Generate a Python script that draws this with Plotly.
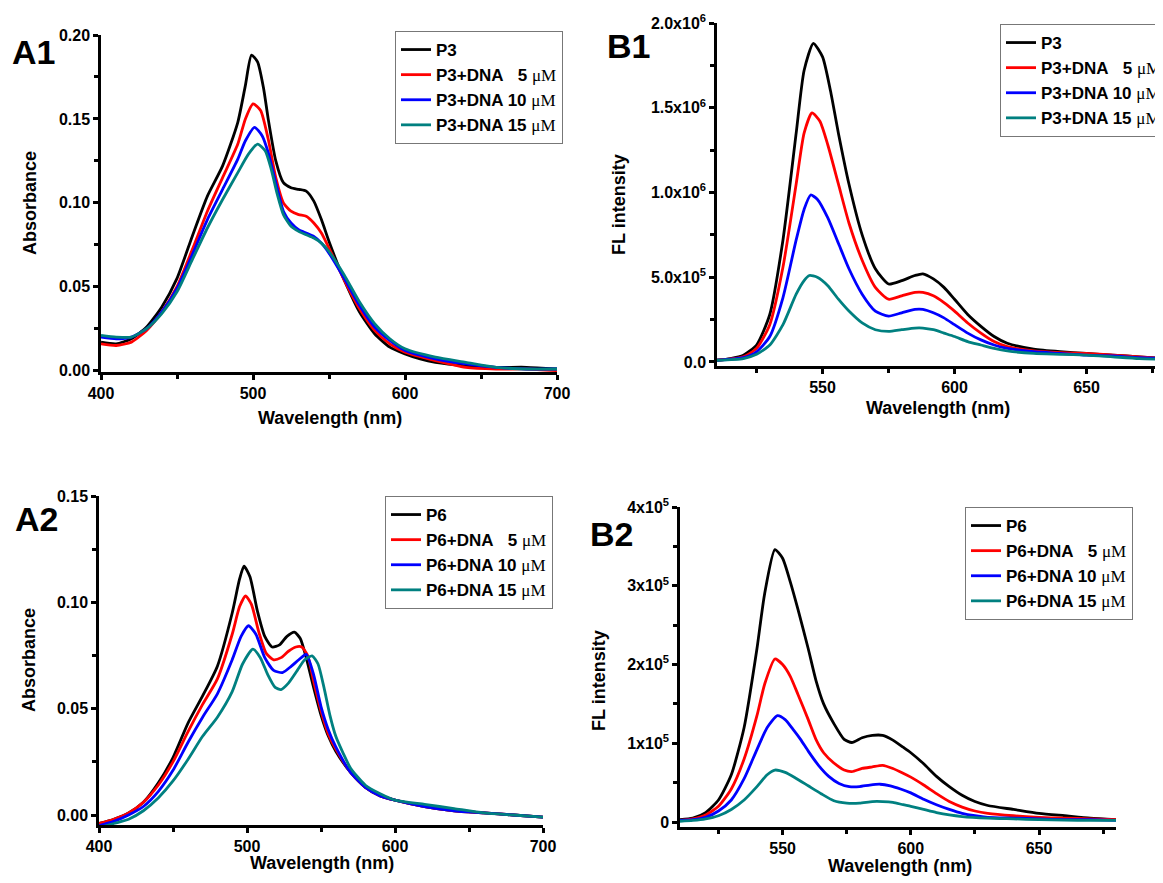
import plotly.graph_objects as go

# page body has an 8px margin: the figure is sized and positioned to compensate
OFF = 8
W, H = 1163 - OFF, 883 - OFF
COLORS = ["#000000", "#FF0000", "#0000FF", "#008080"]
MU = "<span style=\"font-family:'Liberation Serif',serif;font-weight:normal\">μM</span>"
NB = "\u00a0"
names_p3 = ["P3", f"P3+DNA{NB*3}5 {MU}", f"P3+DNA 10 {MU}", f"P3+DNA 15 {MU}"]
names_p6 = ["P6", f"P6+DNA{NB*3}5 {MU}", f"P6+DNA 10 {MU}", f"P6+DNA 15 {MU}"]

# ---------------- A1 : absorbance P3 ----------------
a1_x_p3 = [400, 410, 420, 430, 440, 450, 460, 470, 480, 490, 495, 499, 503, 507, 510, 515, 520, 525, 530, 535, 540, 545, 550, 555, 560, 570, 580, 590, 600, 610, 620, 640, 660, 680, 700]
a1_y_p3 = [0.017, 0.016, 0.019, 0.026, 0.038, 0.055, 0.080, 0.104, 0.122, 0.148, 0.170, 0.188, 0.184, 0.168, 0.150, 0.125, 0.112, 0.109, 0.108, 0.107, 0.101, 0.090, 0.077, 0.065, 0.054, 0.035, 0.022, 0.014, 0.010, 0.007, 0.005, 0.003, 0.002, 0.002, 0.001]
a1_x_5 = [400, 410, 420, 430, 440, 450, 460, 470, 480, 490, 495, 500, 505, 510, 515, 520, 525, 530, 535, 540, 545, 550, 560, 570, 580, 590, 600, 620, 640, 660, 680, 700]
a1_y_5 = [0.016, 0.015, 0.017, 0.024, 0.035, 0.050, 0.072, 0.095, 0.115, 0.135, 0.150, 0.159, 0.155, 0.138, 0.115, 0.100, 0.095, 0.093, 0.092, 0.088, 0.082, 0.073, 0.054, 0.037, 0.024, 0.016, 0.011, 0.006, 0.002, 0.001, 0.001, 0.000]
a1_x_10 = [400, 410, 420, 430, 440, 450, 460, 470, 480, 490, 495, 501, 506, 510, 515, 520, 525, 530, 535, 540, 545, 550, 560, 570, 580, 590, 600, 620, 640, 660, 680, 700]
a1_y_10 = [0.020, 0.019, 0.020, 0.025, 0.035, 0.049, 0.069, 0.090, 0.108, 0.126, 0.137, 0.145, 0.140, 0.130, 0.112, 0.095, 0.088, 0.084, 0.082, 0.080, 0.076, 0.070, 0.055, 0.039, 0.026, 0.018, 0.012, 0.007, 0.004, 0.002, 0.001, 0.001]
a1_x_15 = [400, 410, 420, 430, 440, 450, 460, 470, 480, 490, 497, 503, 508, 512, 516, 520, 525, 530, 535, 540, 545, 550, 560, 570, 580, 590, 600, 620, 640, 660, 680, 700]
a1_y_15 = [0.021, 0.020, 0.020, 0.025, 0.034, 0.047, 0.066, 0.085, 0.102, 0.118, 0.129, 0.135, 0.131, 0.120, 0.105, 0.093, 0.086, 0.083, 0.081, 0.079, 0.076, 0.071, 0.057, 0.041, 0.028, 0.019, 0.013, 0.008, 0.005, 0.002, 0.001, 0.001]

# ---------------- B1 : fluorescence P3 ----------------
b1_x_p3 = [510, 515, 520, 525, 530, 535, 540, 543, 546.5, 550, 553, 556, 560, 565, 570, 575, 580, 585, 588, 592, 596, 600, 605, 610, 615, 620, 630, 640, 650, 660, 670, 680]
b1_y_p3 = [0.01e6, 0.02e6, 0.04e6, 0.10e6, 0.28e6, 0.72e6, 1.35e6, 1.72e6, 1.88e6, 1.80e6, 1.60e6, 1.35e6, 1.05e6, 0.75e6, 0.55e6, 0.46e6, 0.48e6, 0.51e6, 0.52e6, 0.49e6, 0.44e6, 0.37e6, 0.28e6, 0.21e6, 0.15e6, 0.11e6, 0.075e6, 0.06e6, 0.05e6, 0.04e6, 0.03e6, 0.02e6]
b1_x_5 = [510, 520, 525, 530, 535, 540, 543, 546, 549, 552, 556, 560, 565, 570, 575, 580, 585, 588, 592, 596, 600, 605, 610, 615, 620, 630, 640, 650, 660, 670, 680]
b1_y_5 = [0.01e6, 0.03e6, 0.08e6, 0.22e6, 0.56e6, 1.05e6, 1.35e6, 1.47e6, 1.42e6, 1.28e6, 1.05e6, 0.82e6, 0.60e6, 0.44e6, 0.37e6, 0.39e6, 0.41e6, 0.41e6, 0.39e6, 0.35e6, 0.30e6, 0.23e6, 0.17e6, 0.12e6, 0.09e6, 0.065e6, 0.055e6, 0.05e6, 0.04e6, 0.03e6, 0.02e6]
b1_x_10 = [510, 520, 525, 530, 535, 540, 543, 545.5, 548, 552, 556, 560, 565, 570, 575, 580, 585, 588, 592, 596, 600, 605, 610, 615, 620, 630, 640, 650, 660, 670, 680]
b1_y_10 = [0.01e6, 0.025e6, 0.06e6, 0.15e6, 0.38e6, 0.72e6, 0.90e6, 0.985e6, 0.96e6, 0.85e6, 0.70e6, 0.55e6, 0.40e6, 0.30e6, 0.27e6, 0.29e6, 0.31e6, 0.31e6, 0.29e6, 0.26e6, 0.22e6, 0.17e6, 0.13e6, 0.10e6, 0.08e6, 0.06e6, 0.05e6, 0.04e6, 0.035e6, 0.025e6, 0.02e6]
b1_x_15 = [510, 520, 525, 530, 535, 540, 543, 545, 548, 552, 556, 560, 565, 570, 575, 580, 585, 588, 592, 596, 600, 605, 610, 615, 620, 630, 640, 650, 660, 670, 680]
b1_y_15 = [0.01e6, 0.02e6, 0.045e6, 0.10e6, 0.22e6, 0.40e6, 0.48e6, 0.51e6, 0.50e6, 0.45e6, 0.37e6, 0.30e6, 0.23e6, 0.19e6, 0.18e6, 0.19e6, 0.20e6, 0.20e6, 0.19e6, 0.17e6, 0.15e6, 0.12e6, 0.10e6, 0.08e6, 0.065e6, 0.05e6, 0.045e6, 0.04e6, 0.03e6, 0.02e6, 0.015e6]

# ---------------- A2 : absorbance P6 ----------------
a2_x_p6 = [400, 410, 420, 430, 440, 450, 460, 470, 480, 490, 495, 498, 502, 507, 512, 517, 522, 527, 532, 536, 540, 545, 550, 555, 560, 570, 580, 590, 600, 620, 640, 660, 680, 700]
a2_y_p6 = [-0.004, -0.002, 0.001, 0.006, 0.015, 0.027, 0.043, 0.056, 0.070, 0.095, 0.111, 0.117, 0.112, 0.096, 0.084, 0.079, 0.080, 0.084, 0.086, 0.083, 0.074, 0.060, 0.047, 0.037, 0.030, 0.020, 0.013, 0.009, 0.007, 0.004, 0.002, 0.001, 0.000, -0.001]
a2_x_5 = [400, 410, 420, 430, 440, 450, 460, 470, 480, 490, 495, 499, 503, 508, 513, 518, 523, 528, 533, 537, 541, 545, 550, 555, 560, 570, 580, 590, 600, 620, 640, 660, 680, 700]
a2_y_5 = [-0.004, -0.002, 0.001, 0.006, 0.014, 0.025, 0.039, 0.052, 0.064, 0.085, 0.098, 0.103, 0.099, 0.086, 0.076, 0.073, 0.074, 0.077, 0.079, 0.079, 0.075, 0.063, 0.049, 0.038, 0.031, 0.020, 0.013, 0.009, 0.007, 0.004, 0.002, 0.001, 0.000, -0.001]
a2_x_10 = [400, 410, 420, 430, 440, 450, 460, 470, 480, 490, 496, 501, 506, 512, 518, 524, 530, 535, 540, 545, 550, 555, 560, 570, 580, 590, 600, 620, 640, 660, 680, 700]
a2_y_10 = [-0.005, -0.003, 0.000, 0.004, 0.011, 0.021, 0.034, 0.046, 0.057, 0.073, 0.084, 0.089, 0.085, 0.074, 0.068, 0.067, 0.070, 0.073, 0.0755, 0.066, 0.051, 0.040, 0.032, 0.020, 0.013, 0.009, 0.007, 0.004, 0.002, 0.001, 0.000, -0.001]
a2_x_15 = [400, 410, 420, 430, 440, 450, 460, 470, 480, 490, 497, 504, 509, 514, 519, 523, 528, 534, 539, 544, 548, 552, 556, 560, 565, 570, 580, 590, 600, 620, 640, 660, 680, 700]
a2_y_15 = [-0.006, -0.004, -0.002, 0.002, 0.008, 0.016, 0.026, 0.037, 0.046, 0.058, 0.071, 0.078, 0.074, 0.066, 0.060, 0.059, 0.062, 0.068, 0.073, 0.0748, 0.071, 0.060, 0.047, 0.037, 0.029, 0.022, 0.014, 0.010, 0.007, 0.005, 0.003, 0.001, 0.000, -0.001]

# ---------------- B2 : fluorescence P6 ----------------
b2_x_p6 = [510, 515, 520, 525, 530, 535, 540, 543, 547, 550, 553, 556, 560, 563, 566, 570, 574, 577, 581, 585, 589, 593, 597, 600, 605, 610, 615, 620, 625, 630, 640, 650, 660, 670, 680]
b2_y_p6 = [0.03e5, 0.05e5, 0.12e5, 0.28e5, 0.60e5, 1.20e5, 2.20e5, 2.90e5, 3.46e5, 3.35e5, 3.05e5, 2.70e5, 2.20e5, 1.80e5, 1.50e5, 1.25e5, 1.05e5, 1.01e5, 1.07e5, 1.10e5, 1.10e5, 1.04e5, 0.95e5, 0.88e5, 0.74e5, 0.58e5, 0.45e5, 0.34e5, 0.26e5, 0.21e5, 0.16e5, 0.11e5, 0.08e5, 0.05e5, 0.03e5]
b2_x_5 = [510, 515, 520, 525, 530, 535, 540, 543, 547, 550, 553, 556, 560, 563, 566, 570, 574, 577, 581, 585, 589, 593, 597, 600, 605, 610, 615, 620, 625, 630, 640, 650, 660, 670, 680]
b2_y_5 = [0.02e5, 0.04e5, 0.09e5, 0.20e5, 0.42e5, 0.80e5, 1.35e5, 1.75e5, 2.07e5, 2.00e5, 1.85e5, 1.62e5, 1.30e5, 1.05e5, 0.88e5, 0.75e5, 0.66e5, 0.64e5, 0.68e5, 0.70e5, 0.72e5, 0.68e5, 0.62e5, 0.57e5, 0.47e5, 0.36e5, 0.26e5, 0.19e5, 0.14e5, 0.11e5, 0.08e5, 0.06e5, 0.05e5, 0.04e5, 0.03e5]
b2_x_10 = [510, 515, 520, 525, 530, 535, 540, 544, 548, 551, 554, 557, 560, 564, 568, 572, 576, 580, 584, 588, 592, 596, 600, 605, 610, 615, 620, 625, 630, 640, 650, 660, 670, 680]
b2_y_10 = [0.02e5, 0.03e5, 0.06e5, 0.14e5, 0.28e5, 0.55e5, 0.92e5, 1.20e5, 1.35e5, 1.30e5, 1.18e5, 1.05e5, 0.90e5, 0.72e5, 0.58e5, 0.49e5, 0.45e5, 0.45e5, 0.47e5, 0.48e5, 0.46e5, 0.42e5, 0.37e5, 0.29e5, 0.22e5, 0.16e5, 0.11e5, 0.08e5, 0.06e5, 0.05e5, 0.04e5, 0.03e5, 0.03e5, 0.02e5]
b2_x_15 = [510, 515, 520, 525, 530, 535, 540, 544, 547, 551, 555, 560, 565, 570, 575, 580, 585, 589, 593, 597, 600, 605, 610, 615, 620, 630, 640, 650, 660, 670, 680]
b2_y_15 = [0.01e5, 0.02e5, 0.04e5, 0.08e5, 0.16e5, 0.28e5, 0.45e5, 0.60e5, 0.66e5, 0.63e5, 0.56e5, 0.46e5, 0.36e5, 0.27e5, 0.24e5, 0.24e5, 0.26e5, 0.26e5, 0.25e5, 0.22e5, 0.20e5, 0.16e5, 0.12e5, 0.09e5, 0.07e5, 0.05e5, 0.04e5, 0.03e5, 0.025e5, 0.02e5, 0.02e5]

# tick labels
b1_tickvals = [0, 0.5e6, 1.0e6, 1.5e6, 2.0e6]
b1_ticktext = ["0.0", "5.0x10<sup>5</sup>", "1.0x10<sup>6</sup>", "1.5x10<sup>6</sup>", "2.0x10<sup>6</sup>"]
b2_tickvals = [0, 1e5, 2e5, 3e5, 4e5]
b2_ticktext = ["0", "1x10<sup>5</sup>", "2x10<sup>5</sup>", "3x10<sup>5</sup>", "4x10<sup>5</sup>"]

FONT = "Liberation Sans, Arial, sans-serif"

fig = go.Figure()

panels = [
    ("x", "y", "legend", names_p3, [(a1_x_p3, a1_y_p3), (a1_x_5, a1_y_5), (a1_x_10, a1_y_10), (a1_x_15, a1_y_15)]),
    ("x2", "y2", "legend2", names_p3, [(b1_x_p3, b1_y_p3), (b1_x_5, b1_y_5), (b1_x_10, b1_y_10), (b1_x_15, b1_y_15)]),
    ("x3", "y3", "legend3", names_p6, [(a2_x_p6, a2_y_p6), (a2_x_5, a2_y_5), (a2_x_10, a2_y_10), (a2_x_15, a2_y_15)]),
    ("x4", "y4", "legend4", names_p6, [(b2_x_p6, b2_y_p6), (b2_x_5, b2_y_5), (b2_x_10, b2_y_10), (b2_x_15, b2_y_15)]),
]
for xa, ya, lg, names, series in panels:
    for (xs, ys), name, col in zip(series, names, COLORS):
        fig.add_trace(go.Scatter(x=xs, y=ys, mode="lines", name=name, xaxis=xa, yaxis=ya,
                                 legend=lg, line=dict(color=col, width=2.8, shape="spline", smoothing=0.6)))

def px(v):
    return min(1.0, (v - OFF) / W)

def py(v):
    return 1 - (v - OFF) / H

def axis_common():
    return dict(showline=True, linewidth=2.5, linecolor="black", ticks="outside", ticklen=5,
                tickwidth=2.5, tickcolor="black", showgrid=False, zeroline=False, mirror=False,
                automargin=False,
                tickfont=dict(family=FONT, size=16, color="black", weight="bold"))

def minor(vals):
    return dict(tickvals=vals, ticklen=4, tickwidth=2.5, tickcolor="black", ticks="outside")

fig.update_layout(
    xaxis=dict(domain=[px(101), px(557)], range=[400, 700], anchor="y", tickvals=[400, 500, 600, 700],
               minor=minor([450, 550, 650]), **axis_common()),
    yaxis=dict(domain=[py(372), py(35)], range=[-0.0008, 0.2], anchor="x", tickvals=[0, 0.05, 0.10, 0.15, 0.20],
               ticktext=["0.00", "0.05", "0.10", "0.15", "0.20"],
               minor=minor([0.025, 0.075, 0.125, 0.175]), **axis_common()),
    xaxis2=dict(domain=[px(717), 1.0], range=[510, 679], anchor="y2", tickvals=[550, 600, 650],
                minor=minor([525, 575, 625, 675]), **axis_common()),
    yaxis2=dict(domain=[py(366), py(23)], range=[-0.024e6, 2.0e6], anchor="x2", tickvals=b1_tickvals, ticktext=b1_ticktext,
                minor=minor([0.25e6, 0.75e6, 1.25e6, 1.75e6]), **axis_common()),
    xaxis3=dict(domain=[px(99), px(543)], range=[400, 700], anchor="y3", tickvals=[400, 500, 600, 700],
                minor=minor([450, 550, 650]), **axis_common()),
    yaxis3=dict(domain=[py(825), py(496)], range=[-0.0047, 0.15], anchor="x3", tickvals=[0, 0.05, 0.10, 0.15],
                ticktext=["0.00", "0.05", "0.10", "0.15"],
                minor=minor([0.025, 0.075, 0.125]), **axis_common()),
    xaxis4=dict(domain=[px(680), px(1116)], range=[510, 680], anchor="y4", tickvals=[550, 600, 650],
                minor=minor([525, 575, 625, 675]), **axis_common()),
    yaxis4=dict(domain=[py(827), py(507)], range=[-0.063e5, 4e5], anchor="x4", tickvals=b2_tickvals, ticktext=b2_ticktext,
                minor=minor([0.5e5, 1.5e5, 2.5e5, 3.5e5]), **axis_common()),
)

def legend_at(x0, y0):
    return dict(x=px(x0), y=py(y0), xanchor="left", yanchor="top", bgcolor="white",
                bordercolor="#777777", borderwidth=1, itemwidth=30, tracegroupgap=0,
                font=dict(family=FONT, size=17, color="black", weight="bold"))

fig.update_layout(
    legend=legend_at(395, 31),
    legend2=legend_at(1000, 24),
    legend3=legend_at(385, 496),
    legend4=legend_at(965, 507),
)

annots = []
def ann(text, x, y, size, angle=0):
    annots.append(dict(text=text, x=px(x), y=py(y), xref="paper", yref="paper", showarrow=False,
                       xanchor="center", yanchor="middle", textangle=angle,
                       font=dict(family=FONT, size=size, color="black", weight="bold")))

ann("A1", 33, 52, 34)
ann("B1", 628, 46, 34)
ann("A2", 36, 519, 34)
ann("B2", 611, 534, 34)
ann("Wavelength (nm)", 330, 418, 18)
ann("Wavelength (nm)", 938, 408, 18)
ann("Wavelength (nm)", 322, 863, 18)
ann("Wavelength (nm)", 900, 866, 18)
ann("Absorbance", 30, 203, 18, -90)
ann("FL intensity", 619, 205, 18, -90)
ann("Absorbance", 29, 660, 18, -90)
ann("FL intensity", 599, 680, 18, -90)

fig.update_layout(
    width=W, height=H, margin=dict(l=0, r=0, t=0, b=0, autoexpand=False),
    paper_bgcolor="white", plot_bgcolor="white",
    annotations=annots, showlegend=True,
)

fig.write_html("out.html")
